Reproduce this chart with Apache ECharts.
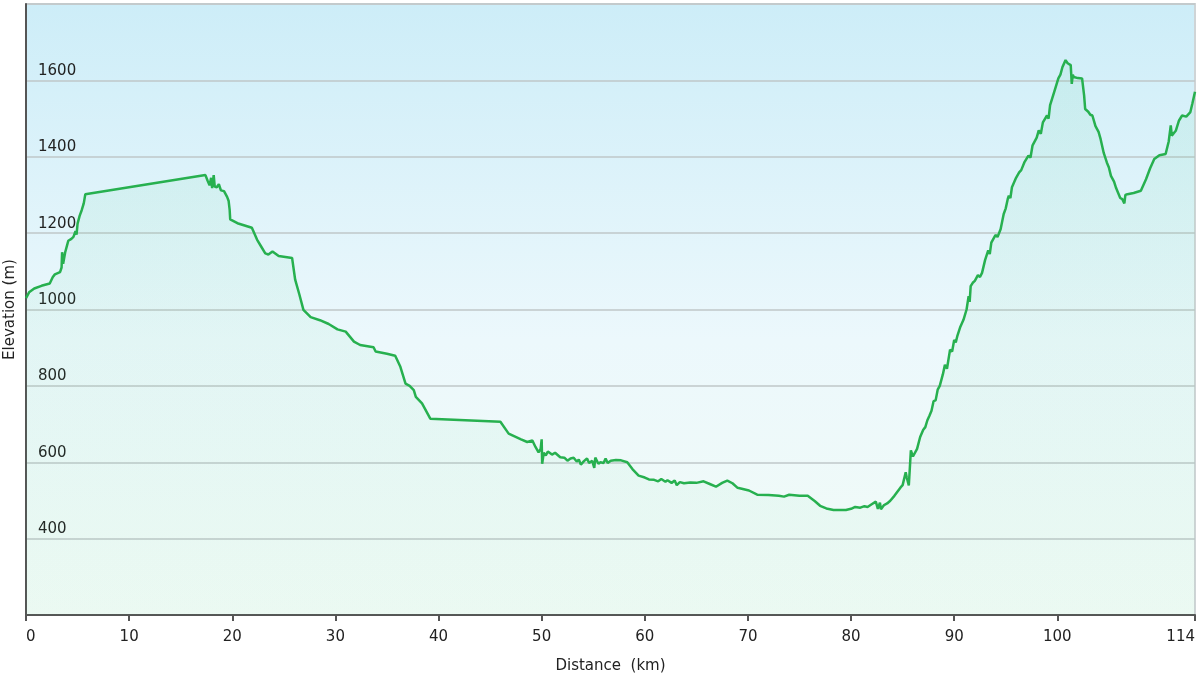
<!DOCTYPE html>
<html>
<head>
<meta charset="utf-8">
<script src="https://cdn.jsdelivr.net/npm/echarts@6/dist/echarts.min.js"></script>
<style>
html,body{margin:0;padding:0;background:#fff;}
#c{width:1200px;height:675px;}
</style>
</head>
<body>
<div id="c"></div>
<script>
// Distance along route (km)
var distanceKm = [
0,0.3,0.8,1.5,2.3,2.6,2.8,3.3,3.45,3.5,3.6,3.8,4.0,4.1,4.4,4.6,4.8,4.9,5.0,5.2,5.4,5.6,5.75,
17.4,17.6,17.8,17.95,18.05,18.2,18.3,18.5,18.7,18.9,19.2,19.5,19.65,19.75,19.8,20.5,21.2,21.9,22.4,22.8,23.2,23.5,23.9,24.5,25.8,
26.1,26.5,26.9,27.6,28.5,29.35,30.2,31.0,31.8,32.4,33.7,33.9,35.0,35.8,36.3,36.8,37.2,37.6,37.8,38.4,39.2,
46.0,46.8,48.0,48.6,49.1,49.4,49.7,49.9,50.0,50.05,50.2,50.4,50.6,51.0,51.3,51.8,52.2,52.5,52.8,53.1,53.4,53.6,53.8,54.1,54.4,54.6,54.9,55.1,55.2,55.5,55.7,56.0,56.2,56.4,56.7,57.2,57.7,58.3,58.8,59.4,
60.0,60.4,60.9,61.3,61.6,62.0,62.2,62.6,62.9,63.1,63.4,63.8,64.4,65.0,65.7,66.3,66.9,67.5,68.0,68.5,69.0,70.1,70.9,72.0,73.0,73.5,74.0,75.0,75.8,76.5,77.0,77.6,78.3,79.5,
80.0,80.4,80.9,81.3,81.6,82.0,82.4,82.6,82.8,82.9,83.2,83.5,83.8,84.2,84.8,85.0,85.3,85.4,85.6,85.8,86.0,86.4,86.7,87.0,87.2,87.4,87.6,87.8,88.0,88.2,88.4,88.6,88.75,88.9,89.1,89.3,89.6,89.8,
90.0,90.15,90.3,90.6,90.9,91.2,91.4,91.5,91.6,91.8,92.0,92.3,92.5,92.7,93.0,93.3,93.45,93.6,94.0,94.2,94.5,94.8,95.0,95.2,95.3,95.45,95.6,96.0,96.3,96.5,96.8,97.2,97.4,97.6,98.0,98.2,98.4,98.6,99.0,99.15,99.3,99.7,
100.1,100.3,100.5,100.8,101.0,101.3,101.4,101.5,101.6,102.0,102.4,102.6,102.7,103.0,103.2,103.4,103.7,104.0,104.2,104.35,104.5,104.8,105.0,105.2,105.5,105.7,105.9,106.1,106.3,106.5,106.6,106.8,107.4,108.1,108.6,109.0,109.4,109.9,
110.5,110.8,111.0,111.1,111.5,111.8,112.1,112.5,112.9,113.1,113.35
];
// Elevation (m)
var elevationM = [
1030,1045,1055,1062,1068,1085,1092,1098,1110,1150,1120,1150,1170,1180,1185,1190,1205,1196,1225,1245,1260,1278,1302,
1352,1338,1325,1345,1318,1352,1322,1320,1328,1312,1310,1295,1284,1260,1236,1226,1220,1214,1183,1165,1147,1144,1152,1140,1135,
1078,1040,999,980,972,962,948,942,916,907,901,890,884,879,850,806,800,789,771,754,714,
706,675,660,653,657,640,626,635,660,596,625,618,628,620,625,613,612,604,610,612,602,607,594,603,610,598,604,585,612,596,600,598,610,598,604,606,605,600,582,565,
560,555,554,550,556,549,553,546,552,540,548,545,547,546,550,543,536,546,552,545,533,526,515,514,512,510,515,512,512,498,486,479,475,475,
478,483,481,485,483,490,497,478,494,477,488,492,499,512,534,540,574,560,539,631,615,635,666,685,692,710,722,735,760,762,790,800,815,830,855,845,895,890,
920,914,930,955,973,1000,1035,1020,1061,1070,1075,1090,1085,1096,1130,1155,1145,1175,1195,1190,1210,1250,1265,1290,1298,1292,1320,1345,1359,1365,1385,1403,1398,1430,1450,1469,1460,1490,1508,1500,1535,1570,
1605,1615,1635,1653,1645,1640,1591,1615,1609,1606,1605,1560,1525,1518,1510,1508,1480,1465,1446,1450,1410,1385,1372,1350,1335,1318,1305,1292,1289,1278,1300,1302,1305,1311,1341,1370,1394,1404,
1407,1440,1482,1455,1469,1495,1508,1505,1517,1540,1570
];
var xMax = 113.35;
var xTickValues = [0,10,20,30,40,50,60,70,80,90,100,113.35];
var xTickLabels = ['0','10','20','30','40','50','60','70','80','90','100','114'];

var points = distanceKm.map(function(d,i){return [d, elevationM[i]];});

var chart = echarts.init(document.getElementById('c'));
var txt = '#222';
var fontFam = '"DejaVu Sans", Verdana, sans-serif';
chart.setOption({
  animation:false,
  grid:{
    left:26, right:5, top:4, bottom:60,
    containLabel:false, outerBoundsMode:'none',
    show:true,
    borderColor:'#cfd4d6', borderWidth:2,
    backgroundColor:new echarts.graphic.LinearGradient(0,0,0,1,[
      {offset:0,color:'#cdedf8'},
      {offset:0.55,color:'#ecf8fc'},
      {offset:1,color:'#f1fbf6'}
    ])
  },
  xAxis:{
    type:'value', min:0, max:xMax,
    name:'Distance  (km)', nameLocation:'middle', nameGap:44,
    nameTextStyle:{color:txt, fontSize:15, fontFamily:fontFam},
    axisLine:{show:true, onZero:false, lineStyle:{color:'#555', width:2}},
    axisTick:{show:true, length:6, customValues:xTickValues, lineStyle:{color:'#555', width:2}},
    axisLabel:{
      customValues:xTickValues, color:txt, fontSize:15, fontFamily:fontFam, margin:15,
      alignMinLabel:'left', alignMaxLabel:'right',
      formatter:function(v){var i=xTickValues.indexOf(v);return i>=0?xTickLabels[i]:'';}
    },
    splitLine:{show:false}
  },
  yAxis:{
    type:'value', min:200, max:1800, interval:200,
    name:'Elevation (m)', nameLocation:'middle', nameGap:6,
    nameTextStyle:{color:txt, fontSize:15, fontFamily:fontFam},
    axisLine:{show:true, lineStyle:{color:'#555', width:2}},
    axisTick:{show:false},
    axisLabel:{inside:true, margin:12, color:txt, fontSize:15, fontFamily:fontFam,
      showMinLabel:false, showMaxLabel:false, verticalAlign:'bottom', padding:[0,0,2,0],
      formatter:function(v){return String(v);}},
    splitLine:{show:true, lineStyle:{color:'#bfc7c9', width:1.5}}
  },
  series:[{
    type:'line', data:points, showSymbol:false, symbol:'none',
    lineStyle:{color:'#27b04f', width:2.5},
    areaStyle:{color:new echarts.graphic.LinearGradient(0,0,0,1,[
      {offset:0,color:'rgba(70,205,130,0.12)'},
      {offset:1,color:'rgba(70,205,130,0.05)'}
    ]), origin:'start'},
    z:3
  }]
});
</script>
</body>
</html>
